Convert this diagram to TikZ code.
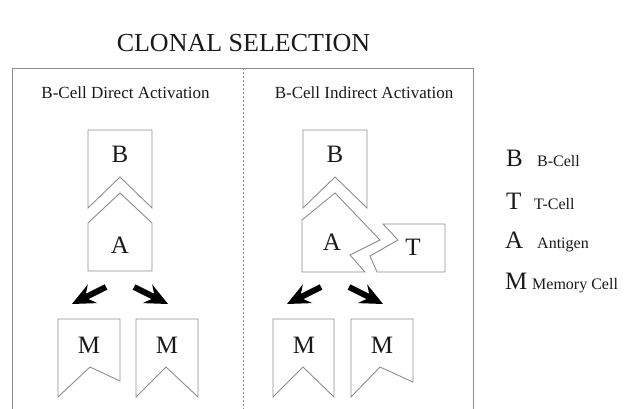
\documentclass[tikz,border=0pt]{standalone}
\usepackage{fontspec}
\setmainfont{Liberation Serif}
\usetikzlibrary{calc}
\definecolor{linegray}{HTML}{8E8E8E}
\definecolor{inkdark}{HTML}{1A1A1A}
% solid black arrow from #1 (tail) to #2 (tip), with a broad swept-back head
\newcommand\cellarrow[2]{%
  \fill[black] (#2)
    -- ($(#2)!23pt!(#1)!10.5pt!90:(#1)$)
    -- ($(#2)!17pt!(#1)!3pt!90:(#1)$)
    -- ($(#1)!3pt!-90:(#2)$)
    -- ($(#1)!3pt!90:(#2)$)
    -- ($(#2)!17pt!(#1)!3pt!-90:(#1)$)
    -- ($(#2)!23pt!(#1)!10.5pt!-90:(#1)$)
    -- cycle;}
\begin{document}
\begin{tikzpicture}[x=1pt,y=-1pt,
  cellshape/.style={draw=linegray,line width=0.9pt,fill=white,line join=miter},
  cellletter/.style={anchor=base,text=inkdark,font=\fontsize{25}{28}\selectfont,inner sep=0pt},
  paneltitle/.style={anchor=base,text=inkdark,font=\fontsize{17}{20}\selectfont,inner sep=0pt},
  keyletter/.style={anchor=base west,text=inkdark,font=\fontsize{25}{28}\selectfont,inner sep=0pt},
  keytext/.style={anchor=base west,text=inkdark,font=\fontsize{16}{19}\selectfont,inner sep=0pt}]
\useasboundingbox (0,0) rectangle (632,409);
\fill[white] (0,0) rectangle (632,409);

% title
\node[anchor=base,text=inkdark,font=\fontsize{26}{30}\selectfont,inner sep=0pt] (title) at (243.5,52) {CLONAL SELECTION};

% frame and divider
\draw[linegray,line width=0.9pt] (12,409) -- (12,68) -- (473,68) -- (473,409);
\draw[linegray,line width=0.7pt,dash pattern=on 2pt off 2pt] (243,68) -- (243,409);

% panel headings
\node[paneltitle] (directlabel) at (125.5,99) {B-Cell Direct Activation};
\node[paneltitle] (indirectlabel) at (364,99) {B-Cell Indirect Activation};

% ---- direct activation ----
\draw[cellshape] (88,130) -- (152,130) -- (152,208) -- (120,177) -- (88,208) -- cycle;
\node[cellletter] (bl) at (120,163) {B};
\draw[cellshape] (88,271) -- (88,223) -- (120,193) -- (152,223) -- (152,271) -- cycle;
\node[cellletter] (al) at (120,253) {A};

\coordinate (al1) at (106,287); \coordinate (al2) at (72,304);
\coordinate (ar1) at (134,287); \coordinate (ar2) at (168,304);
\cellarrow{al1}{al2}
\cellarrow{ar1}{ar2}

\draw[cellshape] (58,319) -- (120,319) -- (120,381) -- (90,367) -- (58,397) -- cycle;
\node[cellletter] (ml1) at (89,353) {M};
\draw[cellshape] (136,319) -- (198,319) -- (198,397) -- (166,367) -- (136,397) -- cycle;
\node[cellletter] (ml2) at (167,353) {M};

% ---- indirect activation ----
\draw[cellshape] (303,130) -- (367,130) -- (367,208) -- (335,177) -- (303,208) -- cycle;
\node[cellletter] (br) at (335,163) {B};
\draw[cellshape] (302,272) -- (302,220) -- (335,193) -- (380,240) -- (350,255) -- (365,272) -- cycle;
\node[cellletter] (ar) at (332,250) {A};
\draw[cellshape] (383,224) -- (445,224) -- (445,272) -- (377,272) -- (370,256) -- (398,240) -- cycle;
\node[cellletter] (tr) at (413,255) {T};

\coordinate (bl1) at (321,287); \coordinate (bl2) at (287,304);
\coordinate (br1) at (349,287); \coordinate (br2) at (383,304);
\cellarrow{bl1}{bl2}
\cellarrow{br1}{br2}

\draw[cellshape] (273,319) -- (334,319) -- (334,397) -- (303,367) -- (273,397) -- cycle;
\node[cellletter] (mr1) at (304,353) {M};
\draw[cellshape] (351,319) -- (413,319) -- (413,382) -- (380,367) -- (351,397) -- cycle;
\node[cellletter] (mr2) at (382,353) {M};

% ---- key ----
\node[keyletter] (kb) at (506,167) {B};
\node[keytext] (kbt) at (537,167) {B-Cell};
\node[keyletter] (kt) at (506,209) {T};
\node[keytext] (ktt) at (534,209) {T-Cell};
\node[keyletter] (ka) at (505,248) {A};
\node[keytext] (kat) at (537,248) {Antigen};
\node[keyletter] (km) at (505,289) {M};
\node[keytext] (kmt) at (532,289) {Memory Cell};
\end{tikzpicture}
\end{document}
